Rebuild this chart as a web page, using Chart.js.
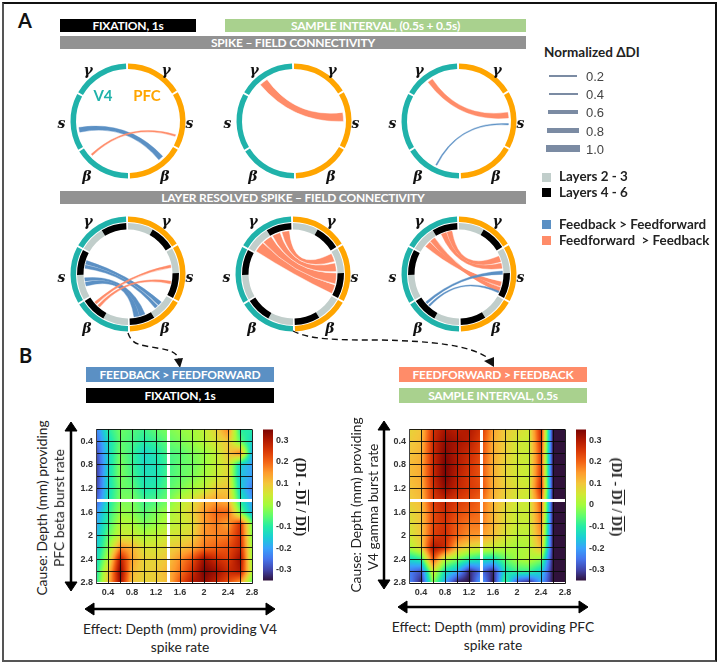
<!DOCTYPE html>
<html><head><meta charset="utf-8">
<script src="https://cdn.jsdelivr.net/npm/chart.js@4"></script>
<style>
html,body{margin:0;padding:0;background:#fff;width:720px;height:664px;overflow:hidden}
#page{position:relative;width:720px;height:664px;font-family:Lato,sans-serif}
#frame{position:absolute;left:2px;top:2px;width:711px;height:656px;border:2px solid #333;border-top-color:#111;border-right-color:#111;border-bottom-color:#555;border-left-color:#555}
canvas{position:absolute}
.t{position:absolute;white-space:nowrap;transform:translate(-50%,-50%);line-height:1}
.l{position:absolute;white-space:nowrap;transform:translateY(-50%);line-height:1}
.bar{position:absolute;color:#fff;font-weight:700;text-align:center;letter-spacing:-.2px}
.k{position:absolute}
.ov{text-decoration:overline}
svg{position:absolute;left:0;top:0}
</style></head><body><div id="page"><div id="frame"></div>
<svg width="720" height="664">
<path d="M128 333 C132 345 140 345 157 348 C170 350 177 352 179 360" fill="none" stroke="#111" stroke-width="1.4" stroke-dasharray="6 4"/>
<polygon points="174,359 183,358 180,368" fill="#111"/>
<path d="M293 331 C310 340 340 340 380 340 C430 341 470 345 488 358" fill="none" stroke="#111" stroke-width="1.4" stroke-dasharray="6 4"/>
<polygon points="484,361 494,357 494,367" fill="#111"/>
<g fill="#000" stroke="#000">
<path d="M71 427 V586" stroke-width="2.5"/><polygon points="71,422 65,431 77,431"/><polygon points="71,591 65,582 77,582"/>
<path d="M91 609 H269" stroke-width="2.5"/><polygon points="85,609 94,603 94,615"/><polygon points="275,609 266,603 266,615"/>
<path d="M384 426 V584" stroke-width="2.5"/><polygon points="384,421 378,430 390,430"/><polygon points="384,589 378,580 390,580"/>
<path d="M404 607 H582" stroke-width="2.5"/><polygon points="398,607 407,601 407,613"/><polygon points="588,607 579,601 579,613"/>
</g></svg>
<script>
// ---------- data ----------
const depthTicks = [0.2,0.4,0.6,0.8,1.0,1.2,1.4,1.6,1.8,2.0,2.2,2.4,2.6,2.8];
const depthLabels = {"0.4":"0.4","0.8":"0.8","1.2":"1.2","1.6":"1.6","2.0":"2","2.4":"2.4","2.8":"2.8"};
const colorTicks = [0.3,0.2,0.1,0,-0.1,-0.2,-0.3];
const colorRange = [-0.35,0.35];
const bandArcs = [58,2,58,2,58,2,58,2,58,2,58,2];
const layerArcs = [29,29,2,29,29,2,29,29,2,29,29,2,29,29,2,29,29,2];

const fixationGrid = [
[-.24,-.10,-.04,-.06,-.08,-.05,-.03,-.01, .00, .03, .08, .17,-.10,-.10],
[-.27,-.13,-.05,-.07,-.10,-.08,-.05,-.03,-.01, .02, .06, .10,-.05,-.14],
[-.30,-.14,-.04,-.08,-.14,-.11,-.07,-.06,-.03,-.01, .03, .10, .17,-.18],
[-.32,-.14,-.03,-.08,-.13,-.12,-.08,-.05,-.04,-.01, .03, .07,-.15,-.20],
[-.32,-.13,-.03,-.07,-.12,-.12,-.07,-.05,-.03, .00, .04, .08,-.16,-.20],
[-.31,-.13,-.04,-.05,-.11,-.10,-.06,-.03, .00, .03, .09, .10,-.14,-.24],
[-.28,-.12,-.03,-.03,-.08,-.07,-.04, .02, .06, .12, .14, .12,-.10,-.20],
[-.22,-.10,-.01,-.02,-.06,-.03, .00, .04, .08, .15, .20, .20,-.03,-.18],
[-.20,-.08, .02, .01,-.03,-.01, .02, .04, .06, .15, .18, .14, .26,-.03],
[-.18,-.05, .04, .04, .01, .03, .05, .06, .08, .16, .17, .18, .27,-.02],
[-.16,-.02, .16, .12, .06, .06, .08, .10, .13, .18, .20, .22, .28, .00],
[-.14, .02, .30, .14, .08, .08, .10, .16, .22, .32, .27, .24, .32, .00],
[-.12, .08, .34, .12, .08, .09, .12, .18, .26, .35, .32, .27, .30, .02],
[-.10, .10, .32, .10, .08, .09, .11, .22, .30, .33, .28, .22, .14,-.05]];

const sampleGrid = [
[ .08, .10, .26, .31, .29, .30, .26, .14, .09, .07, .05, .27,-.35,-.35],
[ .09, .11, .27, .33, .31, .29, .24, .13, .09, .05, .04, .26,-.35,-.35],
[ .10, .12, .27, .34, .30, .27, .23, .13, .09, .05, .04, .24,-.35,-.35],
[ .11, .13, .27, .35, .30, .26, .22, .13, .08, .05, .04, .24,-.35,-.35],
[ .11, .13, .27, .35, .29, .25, .22, .13, .08, .05, .04, .25,-.35,-.35],
[ .10, .12, .26, .33, .28, .25, .23, .13, .09, .06, .05, .27,-.35,-.35],
[ .09, .11, .25, .28, .25, .23, .20, .12, .08, .05, .04, .22,-.35,-.35],
[ .07, .10, .23, .27, .23, .21, .19, .12, .07, .04, .04, .20,-.35,-.35],
[ .06, .10, .23, .26, .21, .18, .18, .12, .07, .04, .04, .18,-.35,-.35],
[ .05, .10, .24, .27, .20, .16, .15, .11, .06, .03, .03, .16,-.35,-.35],
[ .01, .08, .31, .27, .12, .07, .05, .04, .02, .00, .02, .12,-.35,-.35],
[-.14,-.10, .22, .02,-.03,-.09,-.12,-.13,-.05, .00, .02,-.02,-.35,-.35],
[-.24,-.28, .05,-.12,-.18,-.33,-.25,-.33,-.12,-.08,-.08,-.14,-.35,-.35],
[-.22,-.34,-.02,-.20,-.35,-.35,-.18,-.35,-.06,-.30,-.35,-.20,-.35,-.35]];

// ribbon: [kind, start deg, end deg, start deg, end deg], clockwise from 12 o'clock
const FB = "fb", FF = "ff";
const bandFixation = [[FB,257,262.5,135.5,141.5],[FF,226,228,106,108]];
const bandSample05 = [[FF,317,327,80,90.5]];
const bandSample10 = [[FF,321.5,327.5,80,86.5],[FB,206.5,208,93,94.5]];
const layerFixation = [[FB,283,288,130,135.5],[FB,277.5,282,137,141.5],[FB,260.5,265,157,164.5],[FB,254,259,165,172],[FF,226.5,230,78,81.5],[FF,220.5,224,99.5,103]];
const layerSample05 = [[FF,301.6,316,104.5,116.8],[FF,317,329.8,88.6,103.4],[FF,331.7,342.7,75.3,86.8],[FF,344.9,355.2,62,73.3]];
const layerSample10 = [[FF,309,318,100,107],[FF,319,326,108,114.4],[FF,336,343,75.6,82.5],[FF,344,350.6,66,73.6],[FB,227,230,86,90.5],[FB,222,224.5,113,115.5]];

const widthLegend = [0.2,0.4,0.6,0.8,1.0];

// ---------- styles ----------
const TEAL="#20b2aa", ORANGE="#ffa500", BLUE="#5b90c4", SALMON="#ff8c69", GREEN="#a9d18e", GREY="#929292", LAYER="#c1cecb";
const turbo=[[48,18,59],[65,69,171],[70,117,237],[57,162,252],[27,207,212],[36,236,166],[97,252,108],[164,252,60],[209,232,52],[243,198,58],[254,155,45],[243,99,21],[217,56,6],[177,25,1],[122,4,3]];
function turboAt(t){t=Math.min(1,Math.max(0,t))*14;const i=Math.min(13,Math.floor(t)),f=t-i;return turbo[i].map((c,k)=>c+(turbo[i+1][k]-c)*f);}

Chart.defaults.animation=false;
Chart.defaults.responsive=false;
Chart.defaults.devicePixelRatio=1;
Chart.defaults.plugins.legend.display=false;
Chart.defaults.plugins.tooltip.enabled=false;

const page=document.getElementById('page');
function cv(x,y,w,h){const c=document.createElement('canvas');c.width=w;c.height=h;c.style.left=x+'px';c.style.top=y+'px';c.style.width=w+'px';c.style.height=h+'px';page.appendChild(c);return c;}
function txt(s,x,y,css,cls){const d=document.createElement('div');d.className=cls||'t';d.style.left=x+'px';d.style.top=y+'px';d.style.cssText+=css||'';d.innerHTML=s;page.appendChild(d);return d;}
function bar(s,x,y,w,h,c){const d=document.createElement('div');d.className='bar';d.style.cssText=`left:${x}px;top:${y}px;width:${w}px;height:${h}px;line-height:${h}px;background:${c};font-size:12px`;d.innerHTML=s;page.appendChild(d);}
function key(x,y,w,h,c){const d=document.createElement('div');d.className='k';d.style.cssText=`left:${x}px;top:${y}px;width:${w}px;height:${h}px;background:${c}`;page.appendChild(d);}

// ---------- chord diagrams ----------
const ribbonPlugin={id:'ribbons',afterDatasetsDraw(chart,_,o){
  const a0=chart.getDatasetMeta(0).data[0];if(!a0)return;
  const cx=a0.x,cy=a0.y,R=o.radius,ctx=chart.ctx;
  const rad=d=>(d-90)*Math.PI/180;
  const pt=d=>[cx+R*Math.cos(rad(d)),cy+R*Math.sin(rad(d))];
  o.list.forEach(([kind,s0,s1,e0,e1])=>{
    const p=pt(s0),p1=pt(s1),q=pt(e0),q1=pt(e1);
    const m1=[(p1[0]+q[0])/2,(p1[1]+q[1])/2],m2=[(p[0]+q1[0])/2,(p[1]+q1[1])/2];
    let nx=m1[0]-m2[0],ny=m1[1]-m2[1];const L=Math.hypot(nx,ny)||1;nx/=L;ny/=L;
    const w=R*((s1-s0)+(e1-e0))/2*Math.PI/180,sep=w*o.part;
    ctx.save();ctx.beginPath();
    ctx.moveTo(p[0],p[1]);
    ctx.arc(cx,cy,R,rad(s0),rad(s1));
    ctx.quadraticCurveTo(cx+nx*sep,cy+ny*sep,q[0],q[1]);
    ctx.arc(cx,cy,R,rad(e0),rad(e1));
    ctx.quadraticCurveTo(cx-nx*sep,cy-ny*sep,p[0],p[1]);
    ctx.closePath();
    const col=kind===FB?BLUE:SALMON;
    ctx.fillStyle=col;ctx.fill();
    if(w>5.5){ctx.strokeStyle='#fff';ctx.lineWidth=0.5;}else{ctx.strokeStyle=col;ctx.lineWidth=0.4;}
    ctx.stroke();ctx.restore();
  });
}};
const T='rgba(0,0,0,0)';
const bandColors=[ORANGE,T,ORANGE,T,ORANGE,T,TEAL,T,TEAL,T,TEAL,T];
const layerColors=layerArcs.map((_,i)=>i%3===0?LAYER:i%3===1?'#000':T);
function chord(cx,cy,list,layered){
  const datasets=layered?[
    {data:bandArcs,backgroundColor:bandColors,borderWidth:0,weight:5.5},
    {data:[360],backgroundColor:[T],borderWidth:0,weight:1},
    {data:layerArcs,backgroundColor:layerColors,borderWidth:0,weight:6.5}
  ]:[{data:bandArcs,backgroundColor:bandColors,borderWidth:0}];
  new Chart(cv(cx-58,cy-58,116,116),{type:'doughnut',data:{datasets},plugins:[ribbonPlugin],
    options:{rotation:0,cutout:layered?44.5:52,layout:{padding:.5},
      plugins:{ribbons:{list,radius:layered?43.5:49.5,part:layered?0.08:0.3}}}});
  const f="font-family:'DejaVu Serif',serif;font-style:italic;font-weight:700;font-size:14px;color:#111";
  const dy=layered?2:0;
  txt('γ',cx-40,cy-50.5-dy,f);txt('γ',cx+38,cy-50.5-dy,f);
  txt('s',cx-66.5,cy+2+dy/2,f);txt('s',cx+61.5,cy+2+dy/2,f);
  txt('β',cx-41,cy+55.5-dy/2,f);txt('β',cx+37,cy+55.5-dy/2,f);
}
chord(128,120.5,bandFixation,false);
chord(294,120.5,bandSample05,false);
chord(459,120.5,bandSample10,false);
chord(128,273.5,layerFixation,true);
chord(293,273.5,layerSample05,true);
chord(459,273.5,layerSample10,true);

// ---------- heat maps ----------
const heatPlugin={id:'heat',beforeDatasetsDraw(chart,_,o){
  const {left,top,width,height}=chart.chartArea,{x:sx,y:sy}=chart.scales,g=o.grid;
  const off=document.createElement('canvas');off.width=width;off.height=height;
  const oc=off.getContext('2d'),im=oc.createImageData(width,height);
  const n=depthTicks.length,step=depthTicks[1]-depthTicks[0],lo=depthTicks[0];
  for(let j=0;j<height;j++){
    const vy=(sy.getValueForPixel(top+j+.5)-lo)/step,r=Math.min(n-2,Math.max(0,Math.floor(vy))),fy=vy-r;
    for(let i=0;i<width;i++){
      const vx=(sx.getValueForPixel(left+i+.5)-lo)/step,c=Math.min(n-2,Math.max(0,Math.floor(vx))),fx=vx-c;
      const v=(g[r][c]*(1-fx)+g[r][c+1]*fx)*(1-fy)+(g[r+1][c]*(1-fx)+g[r+1][c+1]*fx)*fy;
      const rgb=turboAt((v-colorRange[0])/(colorRange[1]-colorRange[0]));
      const k=(j*width+i)*4;im.data[k]=rgb[0];im.data[k+1]=rgb[1];im.data[k+2]=rgb[2];im.data[k+3]=255;
    }
  }
  oc.putImageData(im,0,0);chart.ctx.drawImage(off,left,top);
}};
const near=(v,t)=>Math.abs(v-t)<1e-6;
function gridOpts(){return {z:1,drawTicks:false,color:c=>near(c.tick.value,1.4)?'#fff':'rgba(10,10,10,.9)',lineWidth:c=>near(c.tick.value,1.4)?3:1};}
const tickFont={family:"'Liberation Sans',sans-serif",size:9,weight:'bold'};
function heat(px,py,grid){
  const points=[];grid.forEach((row,r)=>row.forEach((v,c)=>points.push({x:depthTicks[c],y:depthTicks[r],v})));
  const lab=v=>depthLabels[Number(v).toFixed(1)]||'';
  const setT=s=>{s.ticks=depthTicks.map(v=>({value:v}));};
  new Chart(cv(px-32,py-6,32+156+12,6+156+16),{type:'scatter',
    data:{datasets:[{data:points,pointRadius:0}]},plugins:[heatPlugin],
    options:{layout:{padding:{top:6,right:12}},plugins:{heat:{grid}},
      scales:{
        x:{type:'linear',min:.2,max:2.8,afterBuildTicks:setT,afterFit:s=>{s.height=16;},grid:gridOpts(),border:{color:'#444',z:1},
           ticks:{autoSkip:false,maxRotation:0,padding:4,color:'#333',font:tickFont,callback:lab}},
        y:{type:'linear',reverse:true,min:.2,max:2.8,afterBuildTicks:setT,afterFit:s=>{s.width=32;},grid:gridOpts(),border:{color:'#444',z:1},
           ticks:{autoSkip:false,padding:3,color:'#333',font:tickFont,callback:lab}}
      }}});
}
function colorbar(px,py){
  new Chart(cv(px,py-6,10+26,6+156+6),{type:'bar',
    data:{labels:['ΔDI'],datasets:[{data:[colorRange],barPercentage:1,categoryPercentage:1,borderWidth:0,
      backgroundColor:c=>{const a=c.chart.chartArea;if(!a)return '#888';const g=c.chart.ctx.createLinearGradient(0,a.bottom,0,a.top);for(let i=0;i<=14;i++){g.addColorStop(i/14,`rgb(${turbo[i].join(',')})`);}return g;}}]},
    options:{layout:{padding:{top:6,bottom:6}},scales:{
      x:{display:false},
      y:{position:'right',min:colorRange[0],max:colorRange[1],afterBuildTicks:s=>{s.ticks=colorTicks.map(v=>({value:v}));},afterFit:s=>{s.width=26;},
         grid:{display:false,drawTicks:false},border:{display:false},
         ticks:{autoSkip:false,padding:3,color:'#333',font:tickFont,callback:v=>String(+Number(v).toFixed(1))}}
    }}});
}
heat(96,427,fixationGrid);colorbar(263,427);
heat(409,427,sampleGrid);colorbar(576,427);

// ---------- text ----------
txt('A',25,20,'font-weight:700;font-size:20px;color:#111');
txt('B',25.5,355,'font-weight:700;font-size:20px;color:#111');
bar('FIXATION, 1s',60,19,136,13,'#000');
bar('SAMPLE INTERVAL, (0.5s + 0.5s)',225,19,301,13,GREEN);
bar('SPIKE – FIELD CONNECTIVITY',60,36,466,13,GREY);
bar('LAYER RESOLVED SPIKE – FIELD CONNECTIVITY',60,191,466,13,GREY);
bar('FEEDBACK &gt; FEEDFORWARD',86,367,188,15,BLUE);
bar('FIXATION, 1s',86,388,188,15,'#000');
bar('FEEDFORWARD &gt; FEEDBACK',399,367,188,15,SALMON);
bar('SAMPLE INTERVAL, 0.5s',399,388,188,15,GREEN);
txt('V4',103,95,`font-weight:700;font-size:15px;color:${TEAL}`);
txt('PFC',147,95,`font-weight:700;font-size:15px;color:${ORANGE}`);

txt('Normalized ΔDI',544,53,'font-weight:700;font-size:13.5px;color:#222','l');
const keyW=[28,29,30,32,34],keyH=[1.5,2.5,4,5.5,7],keyY=[76,94,112,130.5,148.5];
widthLegend.forEach((v,i)=>{
  key(563-keyW[i]/2,keyY[i]-keyH[i]/2,keyW[i],keyH[i],'#7b8ba3');
  txt(v.toFixed(1),586,keyY[i],"font-family:'Liberation Sans',sans-serif;font-size:13px;color:#444",'l');
});
key(541.5,172.5,9.5,9,LAYER);key(541.5,188,9.5,9,'#000');
key(541.5,220,9.5,9,BLUE);key(541.5,236,9.5,9,SALMON);
const lg='font-weight:700;font-size:13.4px;color:#222';
txt('Layers 2 - 3',559,177,lg,'l');txt('Layers 4 - 6',559,193,lg,'l');
txt('Feedback &gt; Feedforward',559,225,lg,'l');txt('Feedforward &nbsp;&gt; Feedback',559,240.5,lg,'l');

const ax='font-size:13.8px;color:#222;';
const rot='transform:translate(-50%,-50%) rotate(-90deg)';
txt('Cause: Depth (mm) providing',42,507.5,ax+rot);
txt('PFC beta burst rate',59,507.5,ax+rot);
txt('Cause: Depth (mm) providing',356,505,ax+rot);
txt('V4 gamma burst rate',373,507,ax+rot);
txt('Effect: Depth (mm) providing V4',180,629,ax);
txt('spike rate',180,647,ax);
txt('Effect: Depth (mm) providing PFC',493,627,ax);
txt('spike rate',493,645,ax);
const eq='(DI - <span class="ov">DI</span> / <span class="ov">DI</span>)';
const eqs="font-family:'Liberation Serif',serif;font-weight:700;font-size:14px;color:#222;transform:translate(-50%,-50%) rotate(90deg)";
txt(eq,300,497,eqs);txt(eq,616,497,eqs);
</script></div></body></html>
